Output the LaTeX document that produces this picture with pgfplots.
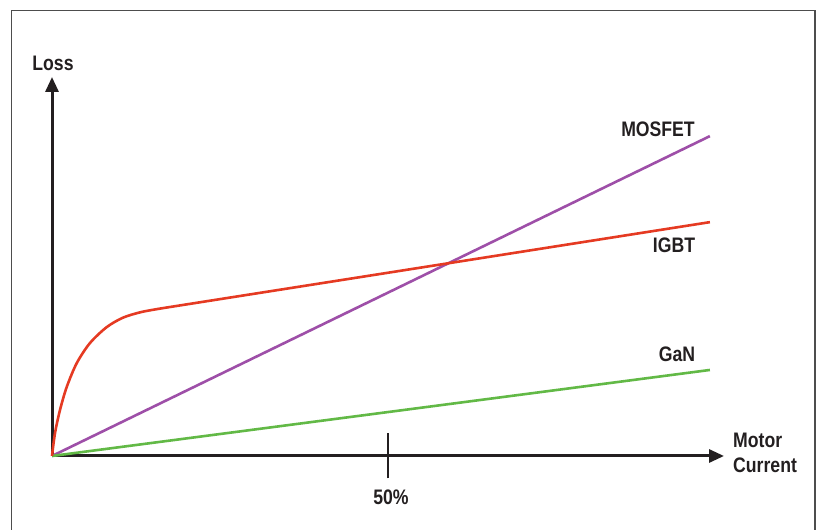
\documentclass[border=0pt]{standalone}
\usepackage{fontspec}
\usepackage{pgfplots}
\pgfplotsset{compat=1.18}
\usetikzlibrary{arrows.meta}
\newfontfamily\cf[FakeStretch=0.84]{Liberation Sans}
\definecolor{ink}{HTML}{231F20}
\definecolor{mosfet}{HTML}{9E4FA8}
\definecolor{igbt}{HTML}{E53A22}
\definecolor{gan}{HTML}{62B946}
\definecolor{frame}{HTML}{4D4D4D}
\begin{document}
\begin{tikzpicture}[x=1bp,y=1bp]
\path[use as bounding box] (0,0) rectangle (819,530);
\draw[line width=1.8bp, frame] (11.5,0) -- (11.5,519.5) -- (815,519.5) -- (815,0);
\begin{axis}[
  at={(52bp,74bp)}, anchor=south west,
  scale only axis, width=672bp, height=379bp,
  xmin=0, xmax=100, ymin=0, ymax=100,
  axis x line=bottom, axis y line=left,
  axis line style={line width=3bp, ink, -{Triangle[length=15bp,width=13bp]}},
  xtick={50}, xticklabels={}, ytick=\empty,
  major tick length=45bp, tick align=center,
  tick style={line width=2.8bp, ink},
  clip=false,
]
\addplot[mosfet, line width=2.6bp] coordinates {(0,0) (97.9,84.4)};
\addplot[gan, line width=2.6bp] coordinates {(0,0) (97.9,22.7)};
\addplot[igbt, line width=2.6bp, smooth] coordinates {
 (0,0) (0.45,6.07) (1.19,12.14) (2.19,18.2) (3.68,24.5) (5.65,29.8)
 (8.14,34.0) (10.57,36.5) (13.1,37.9) (15.6,38.75) (18.6,39.6) (22,40.55)
 (30,42.78) (50,48.35) (75,55.32) (97.9,61.7)};
\end{axis}
\begin{scope}[every node/.style={inner sep=0pt, text=ink, font=\cf\bfseries\fontsize{21bp}{25bp}\selectfont}]
\node[anchor=base] at (53,459) {Loss};
\node[anchor=base] at (658,393) {MOSFET};
\node[anchor=base] at (674,277) {IGBT};
\node[anchor=base] at (677,168) {GaN};
\node[anchor=base west] at (733,82) {Motor};
\node[anchor=base west] at (733,57) {Current};
\node[anchor=base] at (391,25) {50\%};
\end{scope}
\end{tikzpicture}
\end{document}
